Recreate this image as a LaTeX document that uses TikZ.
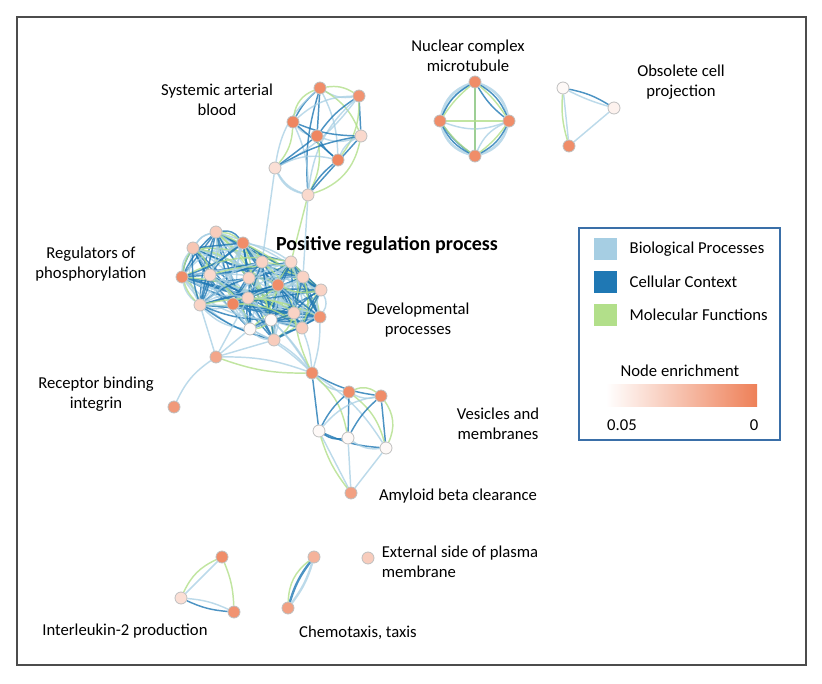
\documentclass[tikz,border=0pt]{standalone}
\usepackage{fontspec}
\setmainfont{Carlito}
\pgfdeclarelayer{bg}\pgfsetlayers{bg,main}
\definecolor{lb}{HTML}{A6CEE3}\definecolor{db}{HTML}{1F78B4}\definecolor{lg}{HTML}{B2DF8A}
\definecolor{en}{HTML}{EE8058}\definecolor{fr}{HTML}{3A6FA8}
\begin{document}
\begin{tikzpicture}[x=0.75pt,y=-0.75pt,
  nd/.style={circle,draw=black!25,line width=0.6pt,minimum size=9pt,inner sep=0pt,fill=en!#1!white},
  lab/.style={font=\fontsize{12.5}{15}\selectfont,align=center},
  e0/.style={lb,line width=1.1pt,opacity=0.75},
  e1/.style={db,line width=1.1pt,opacity=0.8},
  e2/.style={lg,line width=1.1pt,opacity=0.8}]
\useasboundingbox (0,0) rectangle (822,684);
\draw[black!70,line width=0.8pt] (17,17) rectangle (806,665);
% nodes
\foreach \n/\x/\y/\s in {s1/320/88/90,s2/359/96/85,s3/293/122/95,s4/317/136/95,s5/361/136/30,s6/338/160/95,s7/275/168/25,s8/308/195/30,
 n1/475/82/90,n2/440/121/90,n3/509/121/90,n4/475/156/90,
 o1/563/88/5,o2/614/108/10,o3/569/146/90,
 b1/216/232/40,b2/193/248/45,b3/243/243/90,b4/182/277/90,b5/210/275/30,b6/249/278/35,b7/262/262/35,b8/291/262/30,b9/303/277/35,
 b10/278/285/90,b11/321/290/35,b12/248/298/35,b13/200/305/35,b14/233/304/95,b15/271/320/5,b16/294/313/35,b17/320/317/85,b18/302/328/40,b19/250/329/5,b20/274/340/40,
 r1/216/357/70,r2/174/407/80,
 v1/312/373/90,v2/349/392/90,v3/381/396/90,v4/319/431/5,v5/348/438/5,v6/386/448/5,v7/351/493/75,
 i1/222/557/90,i2/181/598/25,i3/234/612/85,c1/314/557/60,c2/288/608/75,x1/368/558/40}
 \node[nd=\s] (\n) at (\x,\y) {};
\begin{pgfonlayer}{bg}
\newcommand\clus[1]{%
 \foreach \a [count=\i] in {#1}{\foreach \b [count=\j] in {#1}{\ifnum\j>\i
  \pgfmathtruncatemacro\c{mod(\i*7+\j*3,5)}%
  \ifcase\c \draw[e0] (\a) to[bend left=12] (\b);\or \draw[e1] (\a) to[bend right=10] (\b);
  \or \draw[e2] (\a) to[bend left=18] (\b);\or \draw[e0] (\a) to[bend right=20] (\b);
  \or \draw[e1] (\a) -- (\b);\fi\fi}}}
\clus{s1,s2,s3,s4,s5,s6,s7,s8}
\draw[e2] (s1) to[bend left=20] (s2);\draw[e2] (s3) to[bend left=30] (s1);\draw[e0] (s7) to[bend right=25] (s8);\draw[e2] (s5) to[bend left=30] (s8);
\clus{n1,n2,n3,n4}
\foreach \p/\q in {n1/n2,n2/n4,n4/n3,n3/n1}{\draw[e0,line width=2pt] (\p) to[bend right=28] (\q);\draw[e1] (\p) to[bend right=18] (\q);\draw[e2] (\p) to[bend right=8] (\q);}
\draw[e2] (n2) -- (n3);\draw[e2] (n1) -- (n4);
\draw[e1] (o1) to[bend left=10] (o2);\draw[e0] (o1) -- (o3);\draw[e0] (o2) -- (o3);\draw[e2] (o1) to[bend right=10] (o3);\draw[e0] (o1) to[bend right=5] (o2);
\clus{b1,b2,b3,b4,b5,b6,b7,b8,b9,b10,b11,b12,b13,b14,b15,b16,b17,b18,b19,b20}
\clus{b1,b2,b4,b13,b3,b5}
\clus{b8,b9,b11,b17,b16,b18,b10}
\draw[e2] (b2) to[bend right=40] (b13);\draw[e1] (b1) to[bend left=30] (b3);\draw[e0] (b11) to[bend left=30] (b17);
\clus{v1,v2,v3,v4,v5,v6}
\draw[e2] (v2) to[bend left=30] (v3);\draw[e2] (v3) to[bend left=30] (v6);\draw[e1] (v4) to[bend right=20] (v5);
\foreach \a in {v4,v5,v6}{\draw[e0] (\a) -- (v7);}
\draw[e2] (v4) to[bend right=10] (v7);
\foreach \a in {b15,b18,b19,b20,b17,b12}{\draw[e0] (\a) to[bend left=8] (v1);}
\draw[e2] (b16) to[bend right=8] (v1);
\foreach \a in {b19,b20,b12,b13}{\draw[e0] (\a) -- (r1);}
\draw[e0] (r1) to[bend left=10] (v1); \draw[e2] (r1) to[bend right=10] (v1);
\draw[e0] (r1) to[bend right=15] (r2);
\draw[e0] (s7) -- (b7); \draw[e2] (s8) -- (b8); \draw[e0] (s8) -- (b9);
\draw[e0] (i1) -- (i2);\draw[e2] (i1) to[bend left=10] (i3);\draw[e1] (i2) to[bend right=10] (i3);\draw[e0] (i2) to[bend left=10] (i3);\draw[e2] (i1) to[bend right=20] (i2);
\draw[e1,line width=1.8pt] (c1) to[bend right=10] (c2);\draw[e0,line width=1.8pt] (c1) to[bend left=10] (c2);\draw[e2] (c1) to[bend right=25] (c2);
\end{pgfonlayer}
% labels
\node[lab] (t1) at (217,100) {Systemic arterial\\blood};
\node[lab] (t2) at (468,56) {Nuclear complex\\microtubule};
\node[lab] (t3) at (681,82) {Obsolete cell\\projection};
\node[font=\bfseries\fontsize{15}{17}\selectfont] (t4) at (387,245) {Positive regulation process};
\node[lab] (t5) at (91,264) {Regulators of\\phosphorylation};
\node[lab] (t6) at (418,320) {Developmental\\processes};
\node[lab] (t7) at (96,394) {Receptor binding\\integrin};
\node[lab] (t8) at (498,424) {Vesicles and\\membranes};
\node[lab] (t9) at (458,496) {Amyloid beta clearance};
\node[lab,align=left] (t10) at (460,562) {External side of plasma\\membrane};
\node[lab] (t11) at (125,631) {Interleukin-2 production};
\node[lab] (t12) at (358,633) {Chemotaxis, taxis};
% legend
\draw[fr,line width=1.2pt] (579,228) rectangle (780,440);
\fill[lb] (594,238) rectangle (617,260); \node[lab,anchor=west] (l1) at (625,249) {Biological Processes};
\fill[db] (594,271) rectangle (617,293); \node[lab,anchor=west] (l2) at (625,282) {Cellular Context};
\fill[lg] (594,304) rectangle (617,326); \node[lab,anchor=west] (l3) at (625,315) {Molecular Functions};
\node[lab] (l4) at (680,371) {Node enrichment};
\shade[left color=white,right color=en] (606,385) rectangle (757,407);
\node[lab] (l5) at (622,425) {0.05};
\node[lab] (l6) at (754,425) {0};
\end{tikzpicture}
\end{document}
